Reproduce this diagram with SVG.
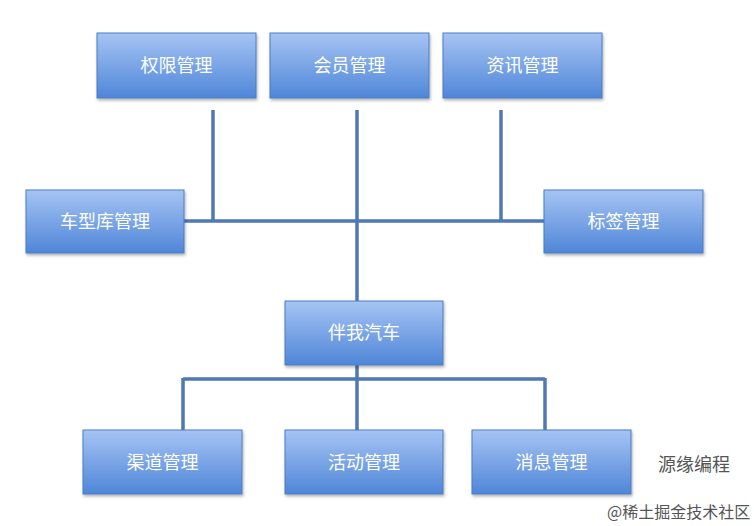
<svg xmlns="http://www.w3.org/2000/svg" width="754" height="526" viewBox="0 0 754 526">
<defs>
<linearGradient id="g" x1="0" y1="0" x2="0" y2="1">
<stop offset="0" stop-color="#a6c4f4"/>
<stop offset="1" stop-color="#4f86d8"/>
</linearGradient>
<filter id="sh" x="-10%" y="-10%" width="125%" height="130%"><feDropShadow dx="1" dy="2" stdDeviation="1.5" flood-color="#000" flood-opacity="0.3"/></filter>
</defs>
<style>
.b{fill:url(#g);stroke:#4a7cc4;stroke-width:1;filter:url(#sh)}
.t{font-family:"Noto Sans CJK SC","Liberation Sans",sans-serif;font-size:18px;fill:#fff;text-anchor:middle}
.c{stroke:#4f78b4;stroke-width:3.5;fill:none}
.w{font-family:"Noto Sans CJK SC",sans-serif;fill:#555}
</style>
<rect width="754" height="526" fill="#fff"/>
<g id="connectors">
<path class="c" d="M213 110V221M357 110V301M501 110V221M184 221H544M357 365V430M183 379H545M183 378V430M545 378V430"/>
</g>
<g id="n1"><rect class="b" x="97" y="33" width="159" height="65"/><text class="t" x="176.5" y="72">权限管理</text></g>
<g id="n2"><rect class="b" x="270" y="33" width="159" height="65"/><text class="t" x="349.5" y="72">会员管理</text></g>
<g id="n3"><rect class="b" x="443" y="33" width="159" height="65"/><text class="t" x="522.5" y="72">资讯管理</text></g>
<g id="n4"><rect class="b" x="26" y="190" width="158" height="63"/><text class="t" x="105" y="228">车型库管理</text></g>
<g id="n5"><rect class="b" x="544" y="190" width="159" height="63"/><text class="t" x="623.5" y="228">标签管理</text></g>
<g id="n6"><rect class="b" x="285" y="301" width="158" height="64"/><text class="t" x="364" y="339">伴我汽车</text></g>
<g id="n7"><rect class="b" x="83" y="430" width="159" height="64"/><text class="t" x="162.5" y="469">渠道管理</text></g>
<g id="n8"><rect class="b" x="285" y="430" width="158" height="64"/><text class="t" x="364" y="469">活动管理</text></g>
<g id="n9"><rect class="b" x="472" y="430" width="159" height="64"/><text class="t" x="551.5" y="469">消息管理</text></g>
<text class="w" x="658" y="471" font-size="18" fill="#333">源缘编程</text>
<text class="w" x="607" y="518" font-size="16" fill="#999">@稀土掘金技术社区</text>
</svg>
